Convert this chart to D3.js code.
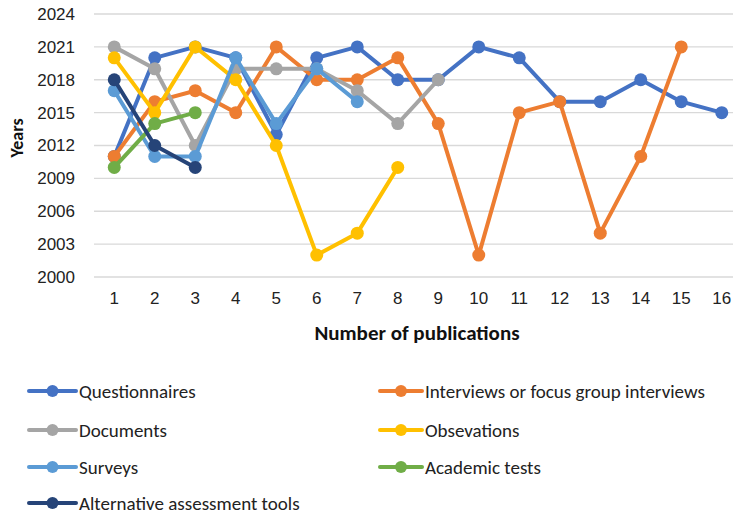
<!DOCTYPE html>
<html><head><meta charset="utf-8">
<script src="https://cdn.jsdelivr.net/npm/d3@7"></script>
<style>body{margin:0;background:#fff}svg{display:block;font-family:Carlito,Lato,"Open Sans",sans-serif}</style>
</head><body><svg id="c" width="733" height="517"></svg>
<script>
const xCategories = [1,2,3,4,5,6,7,8,9,10,11,12,13,14,15,16];
const yTicks = [2000,2003,2006,2009,2012,2015,2018,2021,2024];
const seriesNames = ["Questionnaires","Interviews or focus group interviews","Documents","Obsevations","Surveys","Academic tests","Alternative assessment tools"];
const seriesColors = ["#4472C4","#ED7D31","#A5A5A5","#FFC000","#5B9BD5","#70AD47","#264478"];
const questionnaires = [2011,2020,2021,2020,2013,2020,2021,2018,2018,2021,2020,2016,2016,2018,2016,2015];
const interviews = [2011,2016,2017,2015,2021,2018,2018,2020,2014,2002,2015,2016,2004,2011,2021];
const documents = [2021,2019,2012,2019,2019,2019,2017,2014,2018];
const observations = [2020,2015,2021,2018,2012,2002,2004,2010];
const surveys = [2017,2011,2011,2020,2014,2019,2016];
const academicTests = [2010,2014,2015];
const alternativeTools = [2018,2012,2010];
const seriesValues = [questionnaires,interviews,documents,observations,surveys,academicTests,alternativeTools];

const svg = d3.select("#c");
const m = {l:94, r:742, t:14, b:277};
const x = d3.scaleBand().domain(xCategories).range([m.l, m.r]);
const y = d3.scaleLinear().domain([2000,2024]).range([m.b, m.t]);

svg.append("g").selectAll("line").data(yTicks).join("line")
  .attr("x1", m.l).attr("x2", m.r).attr("y1", d=>y(d)).attr("y2", d=>y(d))
  .attr("stroke","#d9d9d9").attr("stroke-width",1.3);

const yAxis = svg.append("g").attr("transform",`translate(${m.l},0)`)
  .call(d3.axisLeft(y).tickValues(yTicks).tickFormat(d3.format("d")).tickSize(0).tickPadding(19));
yAxis.select(".domain").remove();
yAxis.selectAll("text").attr("font-size",17).attr("fill","#222").attr("font-family","inherit");

const xAxis = svg.append("g").attr("transform",`translate(0,${m.b})`)
  .call(d3.axisBottom(x).tickSize(0).tickPadding(15));
xAxis.select(".domain").remove();
xAxis.selectAll("text").attr("font-size",17).attr("fill","#222").attr("font-family","inherit");

svg.append("text").attr("x",417).attr("y",340).attr("text-anchor","middle")
  .attr("font-size",21).attr("font-weight","bold").attr("fill","#111").text("Number of publications");
svg.append("text").attr("transform","translate(23,138) rotate(-90)").attr("text-anchor","middle")
  .attr("font-size",18).attr("font-weight","bold").attr("fill","#111").text("Years");

const line = d3.line().x((d,i)=>x(xCategories[i])+x.bandwidth()/2).y(d=>y(d));
seriesValues.forEach((vals,k)=>{
  const g = svg.append("g");
  g.append("path").attr("d", line(vals)).attr("fill","none").attr("stroke",seriesColors[k])
    .attr("stroke-width",4).attr("stroke-linejoin","round").attr("stroke-linecap","round");
  g.selectAll("circle").data(vals).join("circle")
    .attr("cx",(d,i)=>x(xCategories[i])+x.bandwidth()/2).attr("cy",d=>y(d)).attr("r",6.5)
    .attr("fill",seriesColors[k]);
});

const legendX = [29, 380];
const legendTextX = [79, 425];
const legendY = [391, 430, 467, 503];
seriesNames.forEach((name,k)=>{
  const lx = legendX[k%2], ly = legendY[Math.floor(k/2)];
  const g = svg.append("g");
  g.append("line").attr("x1",lx).attr("x2",legendTextX[k%2]-3).attr("y1",ly).attr("y2",ly)
    .attr("stroke",seriesColors[k]).attr("stroke-width",4).attr("stroke-linecap","round");
  g.append("circle").attr("cx",(lx+legendTextX[k%2]-3)/2).attr("cy",ly).attr("r",6).attr("fill",seriesColors[k]);
  g.append("text").attr("x",legendTextX[k%2]).attr("y",ly).attr("dy","0.35em").attr("font-size",19)
    .attr("fill","#222").text(name);
});
</script></body></html>
